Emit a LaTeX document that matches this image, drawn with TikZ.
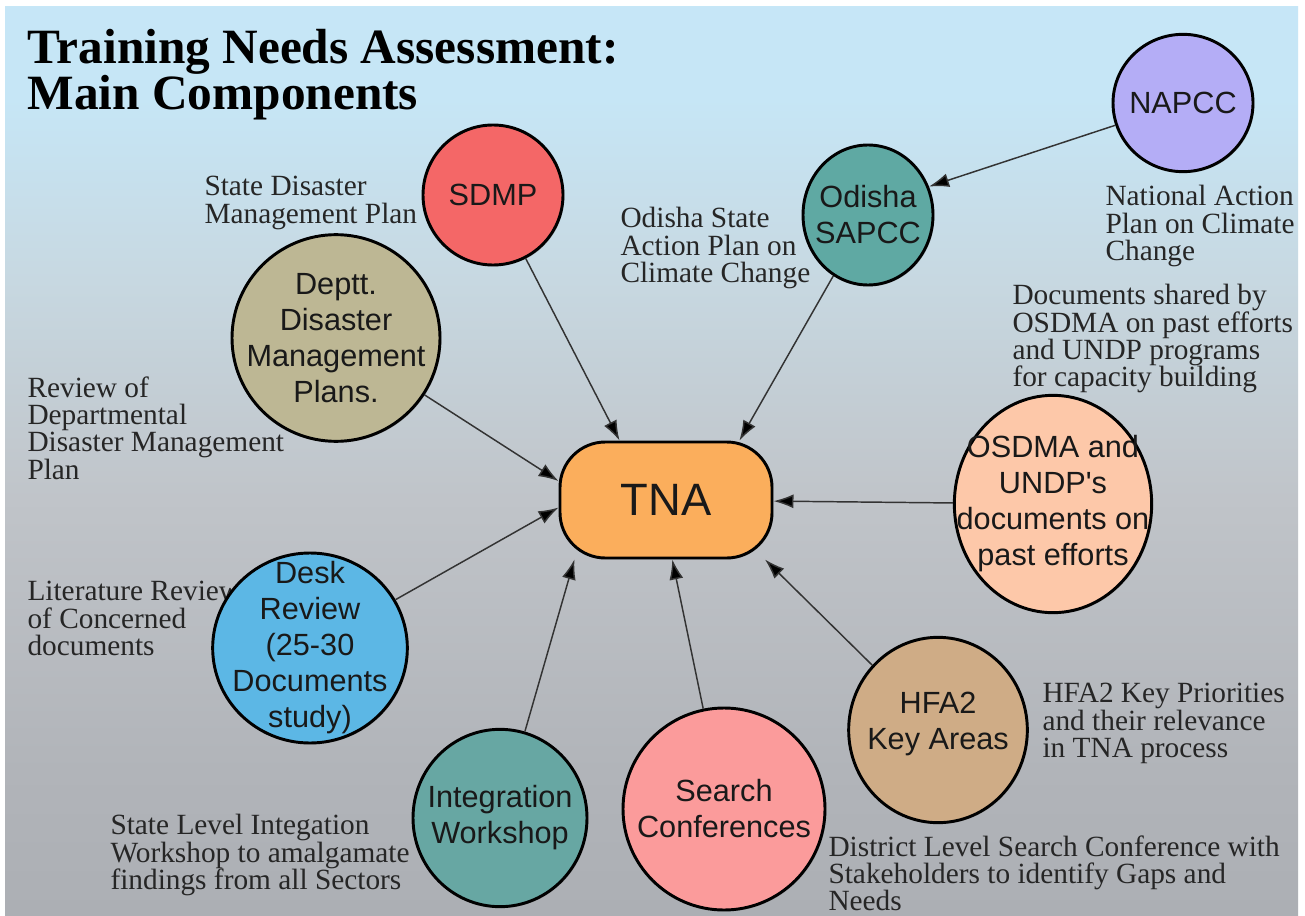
\documentclass[tikz,border=0pt]{standalone}
\usepackage{fontspec}
\setmainfont{Liberation Serif}
\newfontfamily\sansfam{Liberation Sans}
\usetikzlibrary{arrows.meta,shapes.geometric,shadows}

\definecolor{bgtop}{HTML}{C6E9FA}
\definecolor{bgsky}{HTML}{C6E6F6}
\definecolor{bgpale}{HTML}{C7D8E1}
\definecolor{bgmid}{HTML}{C0C4C9}
\definecolor{bglow}{HTML}{B1B4B9}
\definecolor{bgbottom}{HTML}{9C9FA4}
\definecolor{napccfill}{HTML}{B4ADF6}
\definecolor{odishafill}{HTML}{5FA9A3}
\definecolor{sdmpfill}{HTML}{F46767}
\definecolor{depttfill}{HTML}{BDB794}
\definecolor{tnafill}{HTML}{FBAE5C}
\definecolor{osdmafill}{HTML}{FDC8A9}
\definecolor{deskfill}{HTML}{5CB7E5}
\definecolor{integfill}{HTML}{67A7A3}
\definecolor{searchfill}{HTML}{FB9B9B}
\definecolor{hfafill}{HTML}{CFAC86}

\pgfdeclareverticalshading{bgfade}{100bp}{color(0bp)=(bgbottom); color(33bp)=(bglow); color(48bp)=(bgmid); color(60bp)=(bgpale); color(70bp)=(bgsky); color(100bp)=(bgtop)}

\tikzset{
	bubble/.style={ellipse, draw=black, line width=2.2pt, inner sep=0pt,
		drop shadow={opacity=0.45, shadow xshift=1pt, shadow yshift=-1pt}},
	bubbletext/.style={align=center, inner sep=0pt, text=black!90,
		font=\sansfam\fontsize{23}{27}\selectfont},
	note/.style={anchor=north west, inner sep=0pt, align=left, text=black!85,
		font=\fontsize{22}{20.5}\selectfont},
	link/.style={draw=black!80, line width=1.1pt, -{Latex[length=15pt,width=10.5pt,fill=black]}}}
\tikzset{every picture/.style={line width=0.75pt}}

\begin{document}
\lineskiplimit=-20pt
\begin{tikzpicture}[x=0.75pt,y=0.75pt,yscale=-1,xscale=1]
\useasboundingbox (0,0) rectangle (1305,916);

% Background
\fill[white] (0,0) rectangle (1305,916);
\shade[shading=bgfade] (5,7) rectangle (1298,916);

% Title
\node[anchor=north west, inner sep=0pt, align=left, font=\bfseries\fontsize{37}{34.5}\selectfont] (title) at (27,29) {Training Needs Assessment:\\Main Components};

% Text Nodes
\node[note] (sdmp-note) at (204,176) {State Disaster\\Management Plan};
\node[note] (odisha-note) at (620,207) {Odisha State\\Action Plan on\\Climate Change};
\node[note] (napcc-note) at (1105,185) {National Action\\Plan on Climate\\Change};
\node[note] (osdma-note) at (1012,284) {Documents shared by\\OSDMA on past efforts\\and UNDP programs\\for capacity building};
\node[note] (deptt-note) at (27,376) {Review of\\Departmental\\Disaster Management\\Plan};
\node[note] (desk-note) at (27,581) {Literature Review\\of Concerned\\documents};
\node[note] (integ-note) at (110,814) {State Level Integation\\Workshop to amalgamate\\findings from all Sectors};
\node[note] (search-note) at (828,835) {District Level Search Conference with\\Stakeholders to identify Gaps and\\Needs};
\node[note] (hfa-note) at (1042,683) {HFA2 Key Priorities\\and their relevance\\in TNA process};

% Bubbles
\node[bubble, fill=napccfill, minimum width=105pt, minimum height=103pt] (napcc) at (1183,103) {};
\node[bubble, fill=odishafill, minimum width=97.5pt, minimum height=105pt] (odisha) at (868,215) {};
\node[bubble, fill=sdmpfill, minimum width=105pt, minimum height=105pt] (sdmp) at (493,195) {};
\node[bubble, fill=depttfill, minimum width=156pt, minimum height=155pt] (deptt) at (336,338) {};
\node[bubble, fill=osdmafill, minimum width=148pt, minimum height=163pt] (osdma) at (1053,504) {};
\node[bubble, fill=deskfill, minimum width=146pt, minimum height=142.5pt] (desk) at (310,648) {};
\node[bubble, fill=integfill, minimum width=130.5pt, minimum height=133pt] (integ) at (500,818) {};
\node[bubble, fill=searchfill, minimum width=151.5pt, minimum height=151.5pt] (search) at (724,809) {};
\node[bubble, fill=hfafill, minimum width=134pt, minimum height=139pt] (hfa) at (938,730) {};
\node[draw=black, line width=2.2pt, fill=tnafill, rounded corners=34pt, minimum width=159pt, minimum height=87pt,
	drop shadow={opacity=0.45, shadow xshift=1pt, shadow yshift=-1pt}] (tna) at (666,500) {};

% Bubble texts
\node[bubbletext] (napcc-text) at (napcc) {NAPCC};
\node[bubbletext] (odisha-text) at (odisha) {Odisha\\SAPCC};
\node[bubbletext] (sdmp-text) at (sdmp) {SDMP};
\node[bubbletext] (deptt-text) at (deptt) {Deptt.\\Disaster\\Management\\Plans.};
\node[bubbletext] (osdma-text) at (osdma) {OSDMA and\\UNDP's\\documents on\\past efforts};
\node[bubbletext] (desk-text) at (desk) {Desk\\Review\\(25-30\\Documents\\study)};
\node[bubbletext] (integ-text) at (integ) {Integration\\Workshop};
\node[bubbletext] (search-text) at (search) {Search\\Conferences};
\node[bubbletext] (hfa-text) at (938,724) {HFA2\\Key Areas};
\node[bubbletext, font=\sansfam\fontsize{34}{40}\selectfont] (tna-text) at (tna) {TNA};

% Links
\draw[link] (napcc) -- (odisha.25);
\draw[link] (sdmp) -- (tna.128);
\draw[link] (odisha) -- (tna.39);
\draw[link] (deptt) -- (tna.170);
\draw[link] (osdma) -- (tna);
\draw[link] (desk) -- (tna.184);
\draw[link] (integ) -- (tna.213);
\draw[link] (search) -- (tna.276);
\draw[link] (hfa) -- (tna.-31);

\end{tikzpicture}
\end{document}
